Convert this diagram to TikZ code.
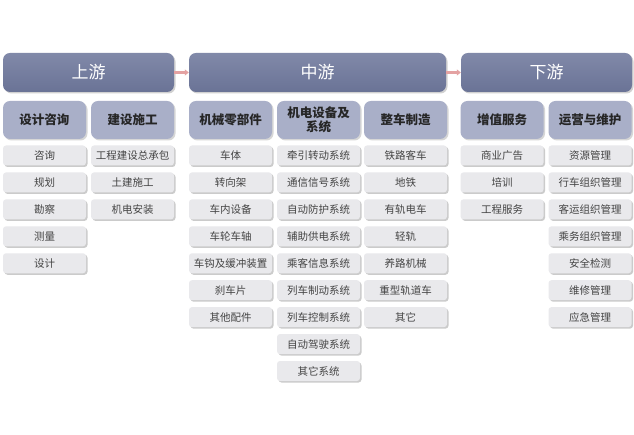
\documentclass[tikz,border=0pt]{standalone}
\usepackage{fontspec}
\setmainfont{Noto Sans CJK SC}
\usetikzlibrary{shadows,arrows.meta}
\definecolor{topc}{HTML}{737C9F}
\definecolor{topd}{HTML}{6A7396}
\definecolor{midc}{HTML}{A9AFC8}
\definecolor{itemc}{HTML}{E9E9EC}
\definecolor{itemt}{HTML}{444444}
\definecolor{arrc}{HTML}{E4A2A2}
\tikzset{
  x=1pt,y=1pt,
  tophead/.style={rounded corners=7pt, top color=topc!90!white, bottom color=topd, minimum width=171pt, minimum height=39pt,
    text=white, font=\fontsize{17}{19}\selectfont,
    drop shadow={shadow xshift=1.5pt, shadow yshift=-1.5pt, fill=black!40, opacity=0.45}},
  subhead/.style={rounded corners=7pt, fill=midc, minimum width=83pt, minimum height=38pt, inner sep=1pt,
    text=black!85, align=center, font=\fontsize{12.5}{14}\selectfont\bfseries,
    drop shadow={shadow xshift=1.5pt, shadow yshift=-1.5pt, fill=black!40, opacity=0.4}},
  item/.style={rounded corners=3pt, fill=itemc, minimum width=83pt, minimum height=20pt, inner xsep=1pt, inner ysep=0pt,
    text=itemt, font=\fontsize{10.5}{12}\selectfont,
    drop shadow={shadow xshift=1.5pt, shadow yshift=-1.5pt, fill=black!45, opacity=0.45}},
  parrow/.style={draw=arrc, line width=2.5pt, -{Triangle[length=4pt,width=6pt]}}
}
\begin{document}
\begin{tikzpicture}
\useasboundingbox (0,0) rectangle (634,435);
\fill[white] (0,0) rectangle (634,435);
% top headers
\node[tophead] (up) at (88.5,362.5) {上游};
\node[tophead, minimum width=257pt] (mid) at (317.5,362.5) {中游};
\node[tophead] (down) at (546.5,362.5) {下游};
\draw[parrow] (up.east) -- (mid.west);
\draw[parrow] (mid.east) -- (down.west);
% sub headers
\node[subhead] (h1) at (44.5,315) {设计咨询};
\node[subhead] (h2) at (132.5,315) {建设施工};
\node[subhead] (h3) at (230.5,315) {机械零部件};
\node[subhead] (h4) at (318.5,315) {机电设备及\\系统};
\node[subhead] (h5) at (405.5,315) {整车制造};
\node[subhead] (h6) at (502,315) {增值服务};
\node[subhead] (h7) at (590,315) {运营与维护};
% items
\foreach \t [count=\i] in {咨询,规划,勘察,测量,设计}
  \node[item] (a\i) at (44.5,{279.5-(\i-1)*26.94}) {\t};
\foreach \t [count=\i] in {工程建设总承包,土建施工,机电安装}
  \node[item] (b\i) at (132.5,{279.5-(\i-1)*26.94}) {\t};
\foreach \t [count=\i] in {车体,转向架,车内设备,车轮车轴,车钩及缓冲装置,刹车片,其他配件}
  \node[item] (c\i) at (230.5,{279.5-(\i-1)*26.94}) {\t};
\foreach \t [count=\i] in {牵引转动系统,通信信号系统,自动防护系统,辅助供电系统,乘客信息系统,列车制动系统,列车控制系统,自动驾驶系统,其它系统}
  \node[item] (d\i) at (318.5,{279.5-(\i-1)*26.94}) {\t};
\foreach \t [count=\i] in {铁路客车,地铁,有轨电车,轻轨,养路机械,重型轨道车,其它}
  \node[item] (e\i) at (405.5,{279.5-(\i-1)*26.94}) {\t};
\foreach \t [count=\i] in {商业广告,培训,工程服务}
  \node[item] (f\i) at (502,{279.5-(\i-1)*26.94}) {\t};
\foreach \t [count=\i] in {资源管理,行车组织管理,客运组织管理,乘务组织管理,安全检测,维修管理,应急管理}
  \node[item] (g\i) at (590,{279.5-(\i-1)*26.94}) {\t};
\end{tikzpicture}
\end{document}
